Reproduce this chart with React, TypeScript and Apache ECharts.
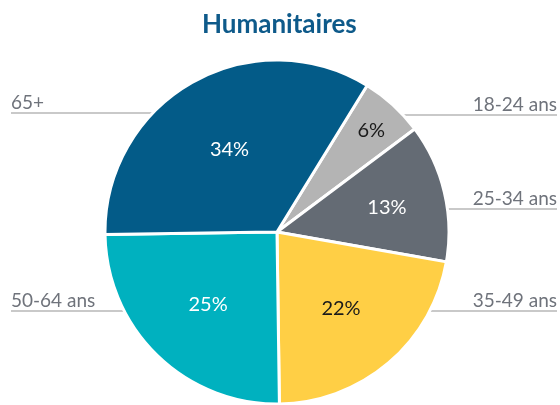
import React, { useEffect, useRef } from "react";
import * as echarts from "echarts";

// ---- data ----
const categories = ["18-24 ans", "25-34 ans", "35-49 ans", "50-64 ans", "65+"];
const shares = [6, 13, 22, 25, 34];
const sliceColors = ["#B4B4B4", "#646B74", "#FFCF45", "#00B1BF", "#035B88"];
const pctColors = ["#1a1a1a", "#ffffff", "#1a1a1a", "#ffffff", "#ffffff"];
const titleText = "Humanitaires";

// ---- layout ----
const CX = 277;
const CY = 232;
const R = 172;
const labelSide = ["right", "right", "right", "left", "left"];
const labelLineY = [115, 209, 311, 311, 113];
const pctRadialFactor = [1.57, 1.27, 1.11, 1.11, 1.08];

export default function App() {
  const ref = useRef<HTMLDivElement>(null);
  useEffect(() => {
    if (!ref.current) return;
    const chart = echarts.init(ref.current, null, { renderer: "svg" });
    const data = categories.map((name, i) => ({
      name,
      value: shares[i],
      itemStyle: { color: sliceColors[i] },
      label: { color: pctColors[i] },
    }));
    const edgeX = (y: number, side: string) => {
      const dy = y - CY;
      const dx = Math.sqrt(Math.max(0, R * R - dy * dy));
      return side === "left" ? CX - dx + 10 : CX + dx - 10;
    };
    chart.setOption({
      animation: false,
      title: {
        text: titleText,
        left: 197,
        top: 5,
        textStyle: {
          fontFamily: "Lato",
          fontWeight: "bold",
          fontSize: 26,
          color: "#0E5A8A",
        },
      },
      series: [
        {
          type: "pie",
          z: 1,
          center: [CX, CY],
          radius: [0, R],
          startAngle: 58.4,
          clockwise: true,
          avoidLabelOverlap: false,
          silent: true,
          data: categories.map((name, i) => ({ name, value: shares[i] })),
          itemStyle: { color: "rgba(0,0,0,0)", borderWidth: 0 },
          label: {
            show: true,
            position: "outside",
            formatter: "{b}",
            fontFamily: "Lato",
            fontSize: 19,
            color: "#6F737B",
          },
          labelLine: {
            show: true,
            lineStyle: { color: "#C9C9C9", width: 2 },
          },
          labelLayout: (p: any) => {
            const i = p.dataIndex;
            const side = labelSide[i];
            const ly = labelLineY[i];
            const x = side === "left" ? 11 : 557;
            return {
              x,
              y: ly - 2,
              align: side === "left" ? "left" : "right",
              verticalAlign: "bottom",
              labelLinePoints: [
                [x, ly],
                [(x + edgeX(ly, side)) / 2, ly],
                [edgeX(ly, side), ly],
              ],
            };
          },
        },
        {
          type: "pie",
          z: 3,
          center: [CX, CY],
          radius: [0, R],
          startAngle: 58.4,
          clockwise: true,
          avoidLabelOverlap: false,
          data,
          itemStyle: { borderColor: "#ffffff", borderWidth: 3 },
          emphasis: { disabled: true },
          label: {
            show: true,
            position: "inside",
            formatter: (p: any) => `${Math.round(p.value)}%`,
            fontFamily: "Lato",
            fontWeight: "normal",
            fontSize: 20,
          },
          labelLine: { show: false },
          labelLayout: (p: any) => {
            const r = p.labelRect;
            const lx = r.x + r.width / 2;
            const ly = r.y + r.height / 2;
            const f = pctRadialFactor[p.dataIndex];
            return {
              x: CX + (lx - CX) * f,
              y: CY + (ly - CY) * f,
              align: "center",
              verticalAlign: "middle",
            };
          },
        },
      ],
    });
    return () => chart.dispose();
  }, []);
  return (
    <div
      ref={ref}
      style={{ position: "fixed", left: 0, top: 0, width: 560, height: 405 }}
    />
  );
}
